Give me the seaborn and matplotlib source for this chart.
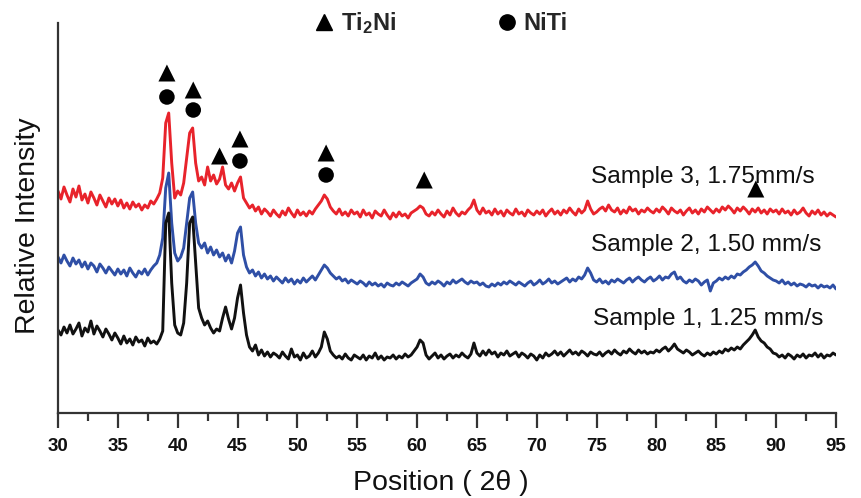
import numpy as np
import pandas as pd
import matplotlib
matplotlib.use("Agg")
import matplotlib.pyplot as plt
from matplotlib.lines import Line2D
import seaborn as sns

# ---------------- data ----------------
two_theta = [30 + 0.25 * i for i in range(261)]

sample1 = [  # black, 1.25 mm/s
    83, 78, 86, 80, 88, 79, 84, 90, 77, 85, 81, 92, 79, 87, 82, 76, 84, 79, 73, 80,
    75, 69, 77, 70, 74, 68, 76, 71, 73, 67, 75, 70, 72, 69, 74, 82, 190, 200, 130, 88,
    80, 78, 90, 130, 190, 196, 150, 105, 95, 88, 92, 85, 80, 84, 82, 95, 106, 94, 84, 95,
    115, 128, 100, 78, 66, 62, 68, 58, 63, 57, 61, 56, 60, 58, 55, 61, 57, 54, 64, 56,
    58, 53, 60, 55, 57, 62, 56, 60, 66, 81, 74, 62, 58, 55, 57, 54, 59, 55, 53, 58,
    56, 54, 58, 53, 57, 55, 60, 54, 57, 53, 56, 55, 58, 54, 57, 55, 59, 56, 58, 62,
    66, 73, 70, 58, 54, 57, 60, 55, 58, 54, 57, 59, 55, 58, 56, 60, 57, 55, 59, 70,
    60, 57, 62, 58, 63, 59, 61, 56, 60, 58, 62, 57, 59, 61, 56, 60, 58, 55, 59, 57,
    53, 58, 55, 60, 57, 59, 62, 58, 61, 57, 60, 63, 59, 61, 58, 62, 60, 57, 61, 59,
    58, 61, 57, 60, 62, 59, 63, 60, 58, 62, 60, 64, 61, 59, 63, 60, 62, 59, 61, 60,
    63, 61, 64, 66, 62, 65, 69, 64, 62, 60, 63, 61, 58, 60, 62, 59, 57, 60, 58, 61,
    59, 62, 60, 64, 62, 65, 63, 66, 64, 68, 71, 74, 78, 83, 76, 72, 70, 66, 64, 60,
    59, 56, 58, 55, 59, 57, 54, 58, 56, 59, 55, 58, 57, 60, 56, 59, 55, 58, 57, 60,
    58,
]

sample2 = [  # blue, 1.50 mm/s
    156, 150, 158, 152, 147, 155, 149, 153, 146, 151, 144, 150, 147, 141, 149, 145, 140, 146, 142, 138,
    144, 139, 143, 137, 145, 140, 136, 142, 139, 144, 138, 143, 147, 150, 158, 175, 225, 240, 190, 160,
    152, 156, 165, 190, 215, 221, 190, 170, 165, 170, 160, 166, 158, 163, 156, 160, 152, 158, 150, 162,
    180, 186, 158, 146, 140, 143, 137, 141, 135, 139, 134, 137, 132, 136, 133, 130, 135, 131, 134, 129,
    133, 130, 135, 131, 134, 137, 133, 138, 143, 148, 145, 140, 137, 134, 136, 132, 134, 130, 133, 131,
    129, 132, 130, 127, 131, 128, 130, 127, 129, 126, 130, 128, 127, 130, 128, 131, 129, 127, 130, 132,
    134, 139, 136, 130, 128, 131, 129, 132, 130, 127, 131, 129, 133, 130, 132, 134, 131, 129, 132, 130,
    131, 128, 130, 127, 126, 129, 127, 130, 128, 131, 129, 132, 130, 128, 131, 129, 127, 130, 132, 128,
    130, 133, 129, 131, 134, 130, 132, 129, 131, 133, 135, 131, 134, 132, 136, 134, 138, 145, 140, 133,
    131, 134, 130, 132, 129, 133, 131, 134, 132, 130, 133, 135, 131, 134, 136, 133, 131, 134, 136, 132,
    134, 137, 133, 136, 135, 139, 141, 134, 136, 132, 130, 133, 131, 134, 132, 128, 131, 133, 122, 130,
    132, 135, 133, 136, 134, 137, 135, 139, 138, 141, 143, 146, 148, 151, 147, 142, 140, 137, 135, 133,
    132, 130, 133, 129, 131, 128, 130, 127, 129, 128, 126, 129, 127, 128, 125, 128, 126, 127, 125, 128,
    124,
]

sample3 = [  # red, 1.75 mm/s
    222, 214, 226, 218, 211, 224, 216, 227, 213, 219, 210, 221, 215, 208, 218, 212, 206, 215, 209, 214,
    207, 213, 205, 210, 204, 211, 206, 209, 203, 208, 205, 212, 209, 214, 220, 235, 290, 300, 250, 215,
    222, 218, 230, 255, 280, 285, 250, 232, 236, 228, 246, 232, 238, 229, 234, 246, 228, 224, 230, 222,
    230, 236, 215, 210, 205, 208, 202, 206, 199, 204, 201, 197, 203, 199, 196, 202, 198, 205, 200, 196,
    203, 198, 201, 197, 202, 199, 204, 208, 212, 218, 214, 206, 202, 199, 204, 198, 201, 197, 203, 199,
    201, 196, 203, 198, 200, 195, 202, 199, 197, 203, 198, 194, 200, 196, 201, 197, 199, 195, 200, 202,
    204, 207, 205, 199, 197, 201, 198, 203, 199, 196, 202, 198, 205, 200, 197, 201, 199, 203, 206, 213,
    203, 199, 205, 200, 202, 198, 204, 199, 202, 197, 203, 200, 198, 204, 199, 201, 197, 203, 200, 198,
    202, 199, 203, 197, 201, 204, 199, 202, 198, 203, 200, 205, 201, 198, 204, 200, 203, 212, 204, 199,
    201, 204, 206, 202, 208, 203, 201, 205, 199, 203, 200, 206, 202, 204, 199, 203, 201, 205, 202, 200,
    204, 201, 206, 203, 199, 205, 202, 200, 203, 198, 202, 205, 200, 203, 199, 204, 201, 206, 203, 200,
    204, 201, 206, 203, 207, 204, 200, 205, 202, 206, 203, 199, 204, 201, 205, 200, 203, 199, 204, 201,
    203, 199, 204, 200, 202, 198, 203, 199, 201, 205, 200, 197, 202, 199, 203, 198, 201, 197, 200, 198,
    196,
]

series_names = ["Sample 3, 1.75mm/s", "Sample 2, 1.50 mm/s", "Sample 1, 1.25 mm/s"]
series_colors = ["#e8232b", "#2f4fa6", "#111111"]

# phase markers (peak positions, marker heights)
ti2ni_x = [39.1, 41.3, 43.5, 45.2, 52.4, 60.6, 88.3]
ti2ni_y = [340, 323, 257, 274, 260, 233, 224]
niti_x = [39.1, 41.3, 45.2, 52.4]
niti_y = [316, 303, 252, 238]

# sample label anchors
label_x = [74.5, 74.5, 74.7]
label_y = [236, 168, 94]

x_ticks = list(range(30, 96, 5))

# ---------------- figure ----------------
sns.set_theme(style="ticks")
plt.rcParams["font.family"] = ["Liberation Sans", "DejaVu Sans"]
plt.rcParams["mathtext.fontset"] = "custom"
plt.rcParams["mathtext.rm"] = "Liberation Sans"
plt.rcParams["mathtext.bf"] = "Liberation Sans:bold"

fig = plt.figure(figsize=(8.62, 4.98), dpi=100)
ax = fig.add_axes([58 / 862, 85 / 498, 778 / 862, 390 / 498])

df = pd.DataFrame({
    "two_theta": two_theta * 3,
    "intensity": sample3 + sample2 + sample1,
    "sample": [series_names[0]] * 261 + [series_names[1]] * 261 + [series_names[2]] * 261,
})
sns.lineplot(data=df, x="two_theta", y="intensity", hue="sample",
             hue_order=series_names, palette=series_colors,
             errorbar=None, estimator=None, linewidth=2.1, legend=False, ax=ax)

sns.scatterplot(x=ti2ni_x, y=ti2ni_y, marker="^", s=150, color="black",
                edgecolor="none", ax=ax, clip_on=False)
sns.scatterplot(x=niti_x, y=niti_y, marker="o", s=125, color="black",
                edgecolor="none", ax=ax, clip_on=False)

for name, lx, ly in zip(series_names, label_x, label_y):
    ax.text(lx, ly, name, fontsize=17.6, ha="left", va="center", color="#111111")

ax.set_xlim(30, 95)
ax.set_ylim(0, 390)
ax.set_xticks(x_ticks)
ax.set_xticks([t + 2.5 for t in x_ticks[:-1]], minor=True)
ax.set_yticks([])
for lbl in ax.get_xticklabels():
    lbl.set_fontweight("bold")
ax.tick_params(axis="x", which="major", direction="out", length=11, width=1.6,
               color="#333333", labelsize=13.5, pad=7, labelcolor="#111111")
ax.tick_params(axis="x", which="minor", direction="out", length=6, width=1.6,
               color="#333333")

sns.despine(ax=ax, top=True, right=True)
for side in ["left", "bottom"]:
    ax.spines[side].set_linewidth(1.6)
    ax.spines[side].set_color("#333333")

ax.set_xlabel("Position ( 2θ )", fontsize=20.5, color="#111111")
ax.set_ylabel("Relative Intensity", fontsize=20.5, color="#111111")
ax.xaxis.set_label_coords(0.492, -0.145)
ax.yaxis.set_label_coords(-0.022, 0.48)

handles = [
    Line2D([], [], marker="^", color="black", linestyle="none", markersize=12),
    Line2D([], [], marker="o", color="black", linestyle="none", markersize=11),
]
labels = [r"Ti$\mathbf{_2}$Ni", "NiTi"]
leg = fig.legend(handles, labels, loc="center left", ncol=2,
                 bbox_to_anchor=(315 / 862, 1 - 23 / 498), bbox_transform=fig.transFigure,
                 frameon=False, borderpad=0, borderaxespad=0, handlelength=0.8,
                 handletextpad=0.3, columnspacing=4.3,
                 prop={"weight": "bold", "size": 17})

fig.savefig("out.png", dpi=100)
